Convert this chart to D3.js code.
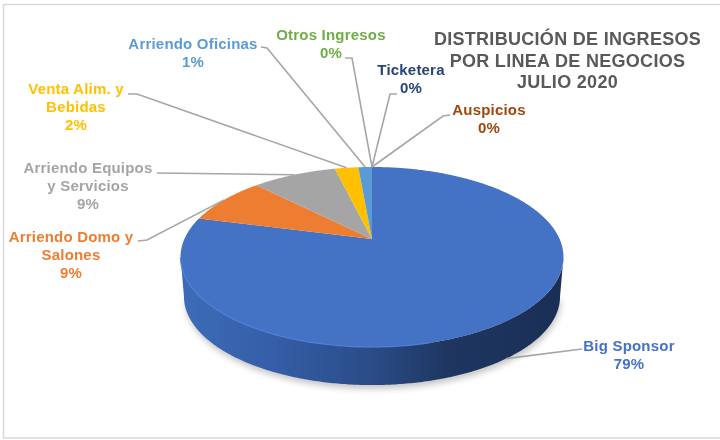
<!DOCTYPE html>
<html>
<head>
<meta charset="utf-8">
<script src="https://cdn.jsdelivr.net/npm/d3@7"></script>
<style>
  html, body { margin: 0; padding: 0; background: #fff; }
  svg { display: block; filter: blur(0.55px); }
  text { font-family: "Liberation Sans", Arial, sans-serif; font-weight: bold; text-anchor: middle; }
</style>
</head>
<body>
<svg id="chart" width="720" height="440"></svg>
<script>
// 数据
const labels = [
  ['Big Sponsor'],
  ['Arriendo Domo y', 'Salones'],
  ['Arriendo Equipos', 'y Servicios'],
  ['Venta Alim. y', 'Bebidas'],
  ['Arriendo Oficinas'],
  ['Otros Ingresos'],
  ['Ticketera'],
  ['Auspicios'],
]
const values = [79.0, 8.6, 8.6, 2.4, 1.4, 0, 0, 0]
const colors = ['#4472c4', '#ed7d31', '#a5a5a5', '#ffc000', '#5b9bd5', '#70ad47', '#264478', '#9e480e']
const titleLines = ['DISTRIBUCIÓN DE INGRESOS', 'POR LINEA DE NEGOCIOS', 'JULIO 2020']

// 标签位置: 文字中心, 首行基线, 连线拐点
const labelLayout = [
  {x: 629, y: 351, from: [582, 349], knee: [582, 349], depth: 1},
  {x: 71, y: 242, from: [138, 241], knee: [147, 240], depth: 0},
  {x: 88, y: 173, from: [157, 173], knee: [157, 173], depth: 0},
  {x: 76, y: 94, from: [128, 94], knee: [137, 94], depth: 0},
  {x: 193, y: 49, from: [261, 47], knee: [267, 48], depth: 0},
  {x: 331, y: 40, from: [345, 58], knee: [352, 58], depth: 0},
  {x: 411, y: 75, from: [397, 94], knee: [390, 94], depth: 0},
  {x: 489, y: 115, from: [450, 115], knee: [443, 116], depth: 0},
]
const lineHeight = 18

const svg = d3.select('#chart')
const defs = svg.append('defs')

// 透视投影: 圆盘上的角度 -> 屏幕坐标, 圆心不在椭圆中心
const cx = 372
const cy = 239
const radius = 187.6
const tilt = 86.4
const persp = 0.2
const sideDepth = 40
const project = (angle, r = 1, depth = 0) => {
  const u = r * Math.sin(angle)
  const v = r * Math.cos(angle)
  const w = 1 + persp * v
  const shrink = 1 - depth * 0.018
  return [cx + (radius * shrink * u) / w, cy - (tilt * shrink * v) / w + depth * sideDepth]
}
const lineGen = d3.line()
const sample = (a0, a1, depth) => {
  const n = Math.max(2, Math.ceil(Math.abs(a1 - a0) / 0.01))
  return d3.range(n + 1).map((i) => project(a0 + ((a1 - a0) * i) / n, 1, depth))
}

// 边框
svg.append('rect')
  .attr('x', 3.5).attr('y', 4.5).attr('width', 730).attr('height', 433.5)
  .attr('fill', '#fff').attr('stroke', '#d6d6d6').attr('stroke-width', 1.4)

defs.append('filter').attr('id', 'soft').attr('x', '-10%').attr('y', '-10%').attr('width', '120%').attr('height', '120%')
  .append('feGaussianBlur').attr('stdDeviation', 3)

// 侧面渐变
const sideGrad = defs.append('linearGradient').attr('id', 'side')
  .attr('gradientUnits', 'userSpaceOnUse')
  .attr('x1', cx - radius).attr('x2', cx + radius).attr('y1', 0).attr('y2', 0)
const sideStops = [[0, '#3d6bb8'], [0.25, '#345da6'], [0.5, '#2a4c87'], [0.7, '#1e3660'], [1, '#1a2f55']]
sideGrad.selectAll('stop').data(sideStops).join('stop')
  .attr('offset', (d) => d[0]).attr('stop-color', (d) => d[1])

const rightA = Math.PI / 2 + Math.asin(persp)
const leftA = Math.PI * 2 - rightA

// 阴影
svg.append('path')
  .attr('d', lineGen(sample(rightA, leftA, 1).map((p) => [p[0] + 1, p[1] + 4])) + 'Z')
  .attr('fill', '#000').attr('opacity', 0.22).attr('filter', 'url(#soft)')

// 侧面
svg.append('path')
  .attr('d', lineGen(sample(rightA, leftA, 1).concat(sample(leftA, rightA, 0))) + 'Z')
  .attr('fill', 'url(#side)')

// 顶面
const pie = d3.pie().sort(null).value((d) => d)
const slices = pie(values)
svg.append('g').attr('class', 'pie-top')
  .selectAll('path').data(slices).join('path')
  .attr('d', (d) => {
    if (d.endAngle <= d.startAngle) return null
    return lineGen([project(0, 0)].concat(sample(d.startAngle, d.endAngle, 0))) + 'Z'
  })
  .attr('fill', (d, i) => colors[i])

// 上沿高光
svg.append('path')
  .attr('d', lineGen(sample(leftA, Math.PI * 0.92, 0)))
  .attr('fill', 'none').attr('stroke', '#4f7fd6').attr('stroke-width', 1.4).attr('opacity', 0.8)

// 引导线
svg.append('g').selectAll('path').data(slices).join('path')
  .attr('d', (d, i) => {
    const l = labelLayout[i]
    const mid = (d.startAngle + d.endAngle) / 2
    return lineGen([l.from, l.knee, project(mid, 1, l.depth)])
  })
  .attr('fill', 'none').attr('stroke', '#a6a6a6').attr('stroke-width', 1.6)

// 标签
const fmt = d3.format('.0f')
const labelG = svg.append('g').selectAll('text').data(slices).join('text')
  .attr('font-size', 15)
  .attr('letter-spacing', 0.2)
  .attr('fill', (d, i) => colors[i])
labelG.selectAll('tspan')
  .data((d, i) => labels[i].concat(fmt(d.value) + '%').map((t, j) => ({t, j, i})))
  .join('tspan')
  .attr('x', (d) => labelLayout[d.i].x)
  .attr('y', (d) => labelLayout[d.i].y + d.j * lineHeight)
  .text((d) => d.t)

// 标题
svg.append('g').selectAll('text').data(titleLines).join('text')
  .attr('x', 567.5)
  .attr('y', (d, i) => 45 + i * 21.5)
  .attr('font-size', 18)
  .attr('letter-spacing', 0.3)
  .attr('fill', '#595959')
  .text((d) => d)
</script>
</body>
</html>
